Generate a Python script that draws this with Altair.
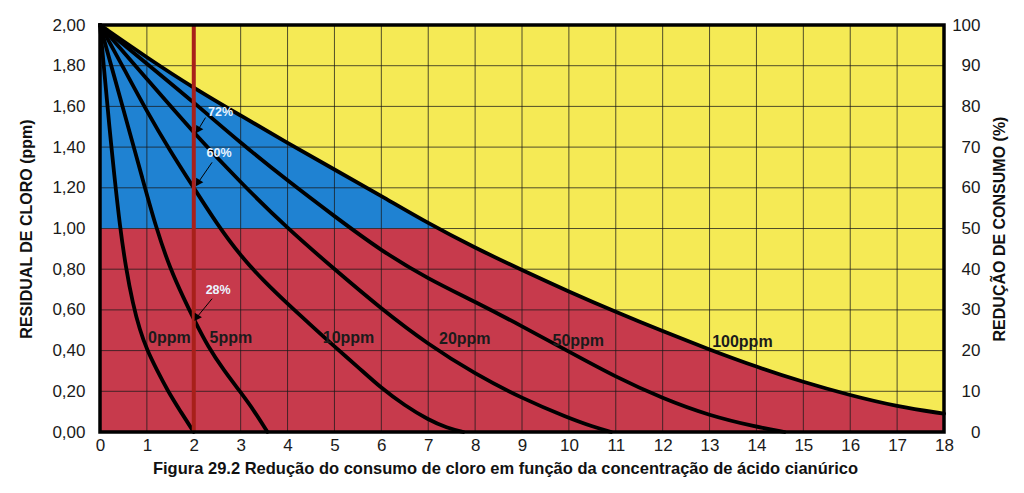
import altair as alt
import pandas as pd

FONT = "Liberation Sans"

# ---- data ----
series_names = ["0ppm", "5ppm", "10ppm", "20ppm", "50ppm", "100ppm"]

c0_x = [0, 0.1, 0.2, 0.3, 0.43, 0.55, 0.7, 0.85, 1.0, 1.2, 1.45, 1.72, 2.0]
c0_y = [2.0, 1.75, 1.5, 1.27, 1.0, 0.81, 0.63, 0.5, 0.405, 0.31, 0.2, 0.1, 0.0]

c5_x = [0, 0.3, 0.6, 0.9, 1.2, 1.5, 1.8, 2.0, 2.3, 2.65, 3.0, 3.3, 3.57]
c5_y = [2.0, 1.75, 1.5, 1.25, 1.0, 0.8, 0.65, 0.555, 0.42, 0.3, 0.195, 0.1, 0.0]

c10_x = [0, 0.5, 1.0, 1.5, 2.0, 2.5, 3.0, 3.5, 4.0, 4.5, 5.0, 5.5, 6.0, 6.5, 7.0, 7.4, 7.75]
c10_y = [2.0, 1.79, 1.575, 1.38, 1.2, 1.02, 0.865, 0.74, 0.63, 0.525, 0.42, 0.32, 0.215, 0.13,
         0.06, 0.02, 0.0]

c20_x = [0, 1, 2, 3, 4, 5, 6, 7, 8, 9, 10, 10.5, 10.9]
c20_y = [2.0, 1.735, 1.47, 1.225, 1.0, 0.8, 0.605, 0.43, 0.285, 0.165, 0.068, 0.027, 0.0]

c50_x = [0, 1, 2, 3, 4, 5, 6, 7, 8, 9, 10, 11, 12, 13, 14, 14.6]
c50_y = [2.0, 1.81, 1.62, 1.42, 1.235, 1.06, 0.89, 0.752, 0.64, 0.52, 0.395, 0.27, 0.165,
         0.08, 0.025, 0.0]

c100_x = [0, 1, 2, 3, 4, 5, 6, 7, 8, 9, 10, 11, 12, 13, 14, 15, 16, 17, 18]
c100_y = [2.0, 1.84, 1.69, 1.555, 1.42, 1.29, 1.16, 1.025, 0.905, 0.795, 0.69, 0.59, 0.495,
          0.405, 0.32, 0.245, 0.18, 0.125, 0.09]

x_domain = [0, 18]
y_domain = [0, 2]
split_level = 1.0

x_ticks = [0, 1, 2, 3, 4, 5, 6, 7, 8, 9, 10, 11, 12, 13, 14, 15, 16, 17, 18]
y_ticks = [0, 0.2, 0.4, 0.6, 0.8, 1.0, 1.2, 1.4, 1.6, 1.8, 2.0]
pct_ticks = [0, 10, 20, 30, 40, 50, 60, 70, 80, 90, 100]

red_line_x = [2.0]

label_x = [1.48, 2.79, 5.3, 7.78, 10.2, 13.7]
label_y = [0.464, 0.464, 0.46, 0.457, 0.447, 0.44]

pct_labels = ["72%", "60%", "28%"]
pct_label_x = [2.57, 2.54, 2.52]
pct_label_y = [1.572, 1.371, 0.698]
arrow_x0 = [2.25, 2.39, 2.39]
arrow_y0 = [1.545, 1.325, 0.655]
arrow_x1 = [2.10, 2.10, 2.07]
arrow_y1 = [1.488, 1.228, 0.565]

caption = "Figura 29.2 Redução do consumo de cloro em função da concentração de ácido cianúrico"

YELLOW = "#F5EA55"
BLUE = "#1F82D2"
RED = "#C73A4C"

# ---- tables ----
curves = pd.concat([
    pd.DataFrame({"x": xs, "y": ys, "series": name})
    for name, xs, ys in zip(series_names,
                            [c0_x, c5_x, c10_x, c20_x, c50_x, c100_x],
                            [c0_y, c5_y, c10_y, c20_y, c50_y, c100_y])
])
top_curve = pd.DataFrame({"x": c100_x, "y": c100_y, "top": y_domain[1]})
blue_band = pd.DataFrame({"x": [x_domain[0]], "x2": [x_domain[1]], "y": [split_level], "y2": [y_domain[1]]})
red_band = pd.DataFrame({"x": [x_domain[0]], "x2": [x_domain[1]], "y": [y_domain[0]], "y2": [split_level]})
frame = pd.DataFrame({"x": [x_domain[0]], "x2": [x_domain[1]], "y": [y_domain[0]], "y2": [y_domain[1]]})
xgrid = pd.DataFrame({"x": x_ticks})
ygrid = pd.DataFrame({"y": y_ticks})
redline = pd.DataFrame({"x": red_line_x})
labels = pd.DataFrame({"x": label_x, "y": label_y, "t": series_names})
pcts = pd.DataFrame({"x": pct_label_x, "y": pct_label_y, "t": pct_labels})
arrows = pd.DataFrame({"x": arrow_x0, "y": arrow_y0, "x2": arrow_x1, "y2": arrow_y1})
pct_df = pd.DataFrame({"pct": pct_ticks})

xs = alt.Scale(domain=x_domain, nice=False, zero=False)
ys = alt.Scale(domain=y_domain, nice=False, zero=False)

x_axis = alt.Axis(values=x_ticks, format="d", labelFontSize=17, labelFont=FONT,
                  labelColor="#1a1a1a", labelPadding=5, labelFlush=False,
                  ticks=False, domain=False, grid=False,
                  title=caption, titleFont=FONT, titleFontSize=16.5, titleFontWeight="bold",
                  titleColor="#111111", titleX=405, titleY=28, titleAlign="center",
                  titleBaseline="top")
y_axis = alt.Axis(values=y_ticks, labelExpr="replace(format(datum.value, '.2f'), '.', ',')",
                  labelFontSize=17, labelFont=FONT, labelColor="#1a1a1a", labelPadding=15,
                  ticks=False, domain=False, grid=False,
                  title="RESIDUAL DE CLORO (ppm)", titleFont=FONT, titleFontSize=16,
                  titleFontWeight="bold", titleColor="#111111", titleAngle=270,
                  titleX=-74, titleY=203.5, titleAlign="center", titleBaseline="middle")

INTERP = "basis"

blue = alt.Chart(blue_band).mark_rect(color=BLUE).encode(
    x=alt.X("x:Q", scale=xs, axis=x_axis), x2="x2:Q",
    y=alt.Y("y:Q", scale=ys, axis=y_axis), y2="y2:Q")
red = alt.Chart(red_band).mark_rect(color=RED).encode(
    x=alt.X("x:Q"), x2="x2:Q", y=alt.Y("y:Q"), y2="y2:Q")
yellow = alt.Chart(top_curve).mark_area(color=YELLOW, interpolate=INTERP).encode(
    x=alt.X("x:Q"), y=alt.Y("y:Q"), y2="top:Q")
vgrid = alt.Chart(xgrid).mark_rule(color="#1a1a1a", strokeWidth=1, opacity=0.75).encode(x="x:Q")
hgrid = alt.Chart(ygrid).mark_rule(color="#1a1a1a", strokeWidth=1, opacity=0.75).encode(y="y:Q")
lines = alt.Chart(curves).mark_line(color="black", strokeWidth=3.8, interpolate=INTERP,
                                    strokeCap="round").encode(
    x="x:Q", y="y:Q", detail="series:N")
rline = alt.Chart(redline).mark_rule(color="#A8201A", strokeWidth=4).encode(x="x:Q")
ashaft = alt.Chart(arrows).mark_rule(color="black", strokeWidth=1).encode(
    x="x:Q", y="y:Q", x2="x2:Q", y2="y2:Q")
ahead = alt.Chart(arrows).mark_point(shape="triangle", filled=True, color="black",
                                     opacity=1, size=70, angle=212).encode(
    x="x2:Q", y="y2:Q")
ctext = alt.Chart(labels).mark_text(font=FONT, fontSize=16, fontWeight="bold",
                                    color="#1b1b1b", align="center", baseline="middle").encode(
    x="x:Q", y="y:Q", text="t:N")
ptext = alt.Chart(pcts).mark_text(font=FONT, fontSize=12.5, fontWeight="bold",
                                  color="#EAF4FF", align="center", baseline="middle").encode(
    x="x:Q", y="y:Q", text="t:N")
border = alt.Chart(frame).mark_rect(filled=False, stroke="black", strokeWidth=3.5).encode(
    x="x:Q", x2="x2:Q", y="y:Q", y2="y2:Q")

main = alt.layer(blue, red, yellow, vgrid, hgrid, lines, rline, ashaft, ahead, ctext, ptext, border)

right = alt.Chart(pct_df).mark_point(opacity=0).encode(
    y=alt.Y("pct:Q", scale=alt.Scale(domain=[0, 100], nice=False),
            axis=alt.Axis(orient="right", values=pct_ticks, format="d", labelFontSize=17,
                          labelFont=FONT, labelColor="#1a1a1a", labelAlign="right",
                          labelPadding=36, ticks=False, domain=False, grid=False,
                          title="REDUÇÃO DE CONSUMO (%)", titleFont=FONT, titleFontSize=16,
                          titleFontWeight="bold", titleColor="#111111", titleAngle=270,
                          titleX=55, titleY=203.5, titleAlign="center",
                          titleBaseline="middle")))

chart = alt.layer(main, right).resolve_scale(y="independent").properties(
    width=844, height=407,
    padding={"left": 92, "top": 17, "right": 70, "bottom": 50},
    autosize=alt.AutoSizeParams(type="none"),
    background="white",
).configure_view(strokeWidth=0)

chart.save("out.html", embed_options={"renderer": "svg", "actions": False})
